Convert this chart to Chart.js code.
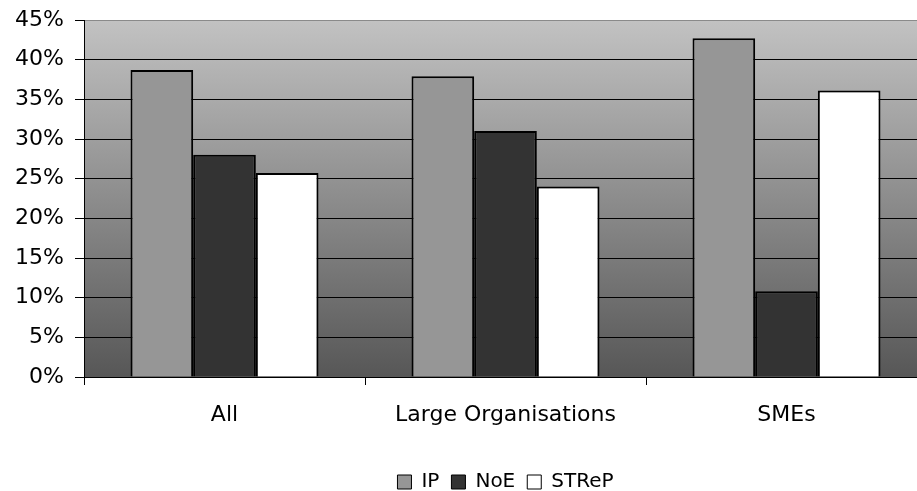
<!DOCTYPE html>
<html>
<head>
<meta charset="utf-8">
<script src="https://cdn.jsdelivr.net/npm/chart.js@4/dist/chart.umd.min.js"></script>
<style>
  html, body { margin: 0; padding: 0; background: #fff; overflow: hidden; }
  /* the original plot runs a little past the right edge of the picture */
  #wrap { width: 927px; height: 491px; }
</style>
</head>
<body>
<div id="wrap"><canvas id="chart"></canvas></div>
<script>
// categories and series (percent)
const categories = ['All', 'Large Organisations', 'SMEs'];
const ipValues = [38.7, 37.9, 42.7];
const noeValues = [28.0, 31.0, 10.8];
const strepValues = [25.7, 24.0, 36.1];
const yTicks = [0, 5, 10, 15, 20, 25, 30, 35, 40, 45];

// gradient behind the plot area
const plotBackground = {
  id: 'plotBackground',
  beforeDraw: function(chart) {
    const a = chart.chartArea;
    const ctx = chart.ctx;
    const g = ctx.createLinearGradient(0, a.top, 0, a.bottom);
    g.addColorStop(0, '#c2c2c2');
    g.addColorStop(1, '#575757');
    ctx.save();
    ctx.fillStyle = g;
    ctx.fillRect(a.left, a.top, a.right - a.left, a.bottom - a.top);
    ctx.strokeStyle = '#8a8a8a';
    ctx.lineWidth = 1;
    ctx.beginPath();
    ctx.moveTo(a.left, a.top + 0.5);
    ctx.lineTo(a.right, a.top + 0.5);
    ctx.stroke();
    ctx.restore();
  }
};

const fontFamily = "'DejaVu Sans', Verdana, sans-serif";

new Chart(document.getElementById('chart').getContext('2d'), {
  type: 'bar',
  data: {
    labels: categories,
    datasets: [
      { label: 'IP', data: ipValues, backgroundColor: '#969696' },
      { label: 'NoE', data: noeValues, backgroundColor: '#333333' },
      { label: 'STReP', data: strepValues, backgroundColor: '#ffffff' }
    ].map(function(d) {
      d.borderColor = '#000';
      d.borderWidth = 2;
      d.categoryPercentage = 0.669;
      d.barPercentage = 1;
      return d;
    })
  },
  options: {
    responsive: true,
    maintainAspectRatio: false,
    animation: false,
    layout: { padding: { top: 20, right: 0, left: 0, bottom: -11 } },
    plugins: {
      legend: {
        position: 'bottom',
        fullSize: false,
        labels: {
          color: '#000',
          boxWidth: 14,
          boxHeight: 14,
          padding: 12,
          font: { family: fontFamily, size: 20 },
          generateLabels: function(chart) {
            return chart.data.datasets.map(function(d, i) {
              return {
                text: d.label,
                fillStyle: d.backgroundColor,
                strokeStyle: '#000',
                lineWidth: 1,
                datasetIndex: i
              };
            });
          }
        }
      },
      tooltip: { enabled: false }
    },
    scales: {
      x: {
        afterFit: function(axis) { axis.height = 83; axis.paddingLeft = 0; axis.paddingRight = 0; },
        grid: {
          drawOnChartArea: false,
          drawTicks: true,
          tickLength: 8,
          color: '#000',
          offset: true
        },
        border: { color: '#000', width: 1 },
        ticks: {
          color: '#000',
          padding: 17,
          font: { family: fontFamily, size: 22 }
        }
      },
      y: {
        min: 0,
        max: 45,
        afterFit: function(axis) { axis.width = 84; axis.paddingTop = 0; axis.paddingBottom = 0; },
        afterBuildTicks: function(axis) {
          axis.ticks = yTicks.map(function(v) { return { value: v }; });
        },
        grid: {
          color: function(c) { return c.tick && c.tick.value === 45 ? '#8a8a8a' : '#000'; },
          tickLength: 9,
          tickColor: '#000'
        },
        border: { color: '#000', width: 1 },
        ticks: {
          color: '#000',
          padding: 11,
          font: { family: fontFamily, size: 22 },
          callback: function(v) { return v + '%'; }
        }
      }
    }
  },
  plugins: [plotBackground]
});
</script>
</body>
</html>
